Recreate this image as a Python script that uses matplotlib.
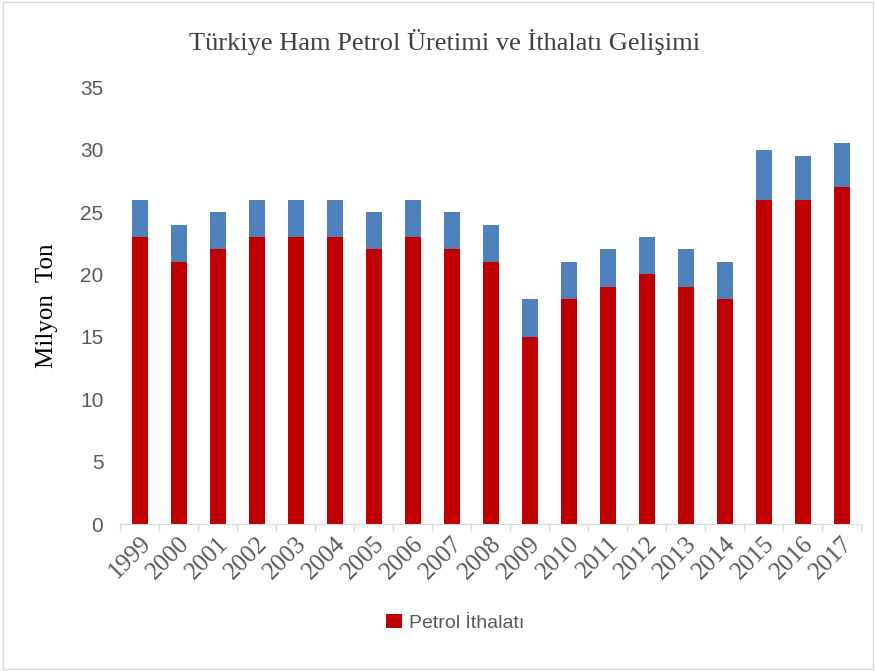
import matplotlib.pyplot as plt
import numpy as np
from matplotlib.patches import Rectangle

years = ['1999', '2000', '2001', '2002', '2003', '2004', '2005', '2006', '2007', '2008',
         '2009', '2010', '2011', '2012', '2013', '2014', '2015', '2016', '2017']
ithalat = [23, 21, 22, 23, 23, 23, 22, 23, 22, 21, 15, 18, 19, 20, 19, 18, 26, 26, 27]
uretim = [3, 3, 3, 3, 3, 3, 3, 3, 3, 3, 3, 3, 3, 3, 3, 3, 4, 3.5, 3.5]

red = '#C00000'
blue = '#4F81BD'
grey_text = '#595959'

fig = plt.figure(figsize=(8.76, 6.71), dpi=100)
ax = fig.add_axes([0.137, 0.219, 0.846, 0.651])

x = np.arange(len(years))
ax.bar(x, ithalat, width=0.41, color=red, label='Petrol İthalatı', zorder=2)
ax.bar(x, uretim, bottom=ithalat, width=0.41, color=blue, zorder=2)

ax.set_xlim(-0.5, len(years) - 0.5)
ax.set_ylim(0, 35)
ax.set_yticks(range(0, 36, 5))
ax.tick_params(axis='y', length=0, labelsize=15, labelcolor=grey_text, pad=12)
for lab in ax.get_yticklabels():
    lab.set_family('Liberation Sans')

ax.set_xticks(x)
ax.set_xticklabels(years, rotation=45, ha='right', rotation_mode='anchor',
                   family='Liberation Serif', fontsize=18, color=grey_text)
ax.tick_params(axis='x', which='major', length=0, pad=6)
ax.set_xticks(np.arange(-0.5, len(years), 1), minor=True)
ax.tick_params(axis='x', which='minor', length=5, color='#D9D9D9', width=1)

for s in ['top', 'right', 'left']:
    ax.spines[s].set_visible(False)
ax.spines['bottom'].set_color('#D9D9D9')

ax.set_ylabel('Milyon  Ton', family='Liberation Serif', fontsize=18, color='black', labelpad=16)
fig.text(0.507, 0.937, 'Türkiye Ham Petrol Üretimi ve İthalatı Gelişimi',
         ha='center', va='center', family='Liberation Serif', fontsize=19, color='#404040')

fig.legend(loc='center', bbox_to_anchor=(0.52, 0.072), frameon=False,
           prop={'family': 'Liberation Sans', 'size': 14}, labelcolor=grey_text,
           handlelength=0.8, handleheight=0.8, handletextpad=0.4)

fig.patches.append(Rectangle((0.003, 0.003), 0.994, 0.994, transform=fig.transFigure,
                             fill=False, edgecolor='#D9D9D9', linewidth=1))

fig.savefig('out.png', dpi=100)
